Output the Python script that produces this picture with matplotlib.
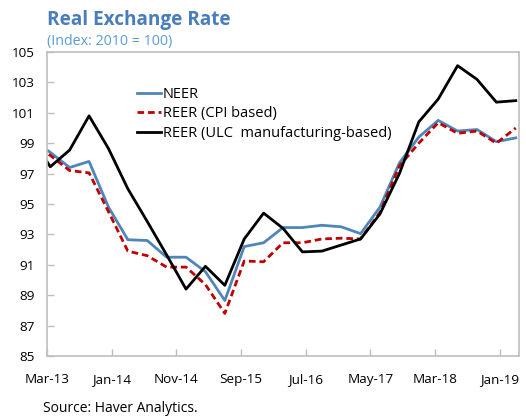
import numpy as np
from matplotlib import pyplot as plt

plt.rcParams['font.family'] = ['Open Sans', 'DejaVu Sans']

# quarterly observations, Dec-12 ... Mar-19 (month offset from Mar-13, mid-month)
quarters = np.arange(-1, 25)
neer = [99.3, 98.4, 97.4, 97.8, 94.8, 92.65, 92.6, 91.5, 91.5, 90.55, 88.65,
        92.2, 92.45, 93.45, 93.45, 93.6, 93.5, 93.05, 94.8, 97.7, 99.4,
        100.5, 99.8, 99.9, 99.1, 99.35]
reer_cpi = [99.0, 98.2, 97.2, 97.05, 94.5, 91.9, 91.6, 90.85, 90.85, 89.7, 87.8,
            91.25, 91.2, 92.45, 92.45, 92.7, 92.75, 92.7, 94.45, 97.5, 99.0,
            100.35, 99.65, 99.8, 99.0, 100.0]
reer_ulc = [99.5, 97.45, 98.55, 100.8, 98.65, 96.0, 93.85, 91.65, 89.4, 90.9, 89.65,
            92.7, 94.4, 93.4, 91.85, 91.9, 92.3, 92.7, 94.35, 97.0, 100.4,
            101.9, 104.1, 103.2, 101.7, 101.8]

tick_months = [0, 10, 20, 30, 40, 50, 60, 70]
tick_labels = ['Mar-13', 'Jan-14', 'Nov-14', 'Sep-15', 'Jul-16', 'May-17', 'Mar-18', 'Jan-19']

x = quarters * 3 + 0.5

fig = plt.figure(figsize=(5.26, 4.18), dpi=100)
ax = fig.add_axes([0.0894, 0.1483, 0.8973, 0.7273])

ax.plot(x, neer, color='#4F86B9', lw=2.0, label='NEER')
ax.plot(x, reer_cpi, color='#C00000', lw=2.0, linestyle=(0, (2.4, 1.4)), label='REER (CPI based)')
ax.plot(x, reer_ulc, color='black', lw=2.0, label='REER (ULC  manufacturing-based)')

ax.set_xlim(0, 73)
ax.set_ylim(85, 105)
ax.set_yticks(np.arange(85, 106, 2))
ax.set_xticks(tick_months)
ax.set_xticklabels(tick_labels)

for s in ax.spines.values():
    s.set_color('#BFBFBF')
    s.set_linewidth(1.2)
ax.tick_params(axis='both', direction='in', color='#BFBFBF', length=5, width=1,
               labelsize=9.7, labelcolor='black')
ax.tick_params(axis='x', pad=12)
ax.tick_params(axis='y', pad=9)

ax.legend(loc='upper left', bbox_to_anchor=(0.19, 0.885), frameon=False,
          fontsize=10.5, handlelength=1.7, handletextpad=0.1, labelspacing=0.3,
          borderpad=0, borderaxespad=0)

fig.text(47 / 526, 1 - 25 / 418, 'Real Exchange Rate', fontsize=13.7, fontweight='bold',
         color='#4A7EBB', va='baseline', ha='left')
fig.text(47 / 526, 1 - 41 / 418, '(Index: 2010 = 100)', fontsize=10.3,
         color='#5B9BD5', va='center', ha='left')
fig.text(43 / 526, 1 - 408 / 418, 'Source: Haver Analytics.', fontsize=10,
         color='black', va='center', ha='left')

fig.savefig('out.png', dpi=100)
